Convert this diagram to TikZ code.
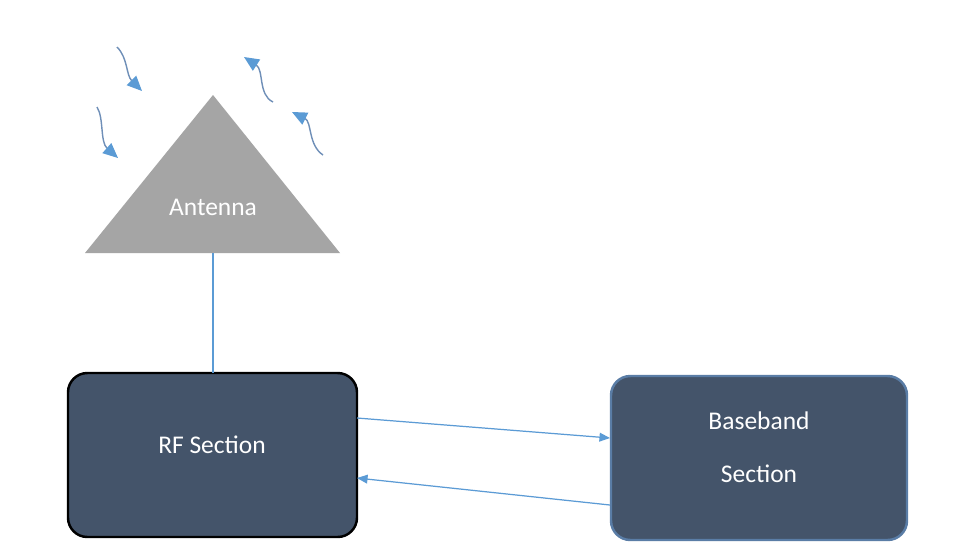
\documentclass[tikz,border=0pt]{standalone}
\usepackage{fontspec}
\setmainfont{Carlito}
\usetikzlibrary{arrows.meta}
\definecolor{boxfill}{HTML}{44546A}
\definecolor{linkblue}{HTML}{5B9BD5}
\definecolor{wavegray}{HTML}{6F8FB8}
\definecolor{antgray}{HTML}{A5A5A5}
\definecolor{bbedge}{HTML}{5A7DA6}
\tikzset{
  block/.style={rounded corners=11pt, fill=boxfill, text=white, font=\fontsize{14.5}{18}\selectfont},
  link/.style={draw=linkblue, line width=0.7pt, -{Triangle[length=6pt,width=5pt]}},
  wave/.style={draw=wavegray, line width=0.8pt, -{Triangle[length=8.5pt,width=7.5pt,color=linkblue,fill=linkblue]}},
  label/.style={text=white, font=\fontsize{14.5}{18}\selectfont}
}
\begin{document}
\begin{tikzpicture}[x=0.02cm, y=-0.02cm]
\useasboundingbox (0,0) rectangle (959,549);
\fill[white] (0,0) rectangle (959,549);
% antenna
\fill[antgray] (213,95) -- (340,253) -- (85,253) -- cycle;
\node[label] (ant) at (213,207) {Antenna};
\coordinate (antbase) at (213,253);
% blocks
\draw[block, draw=black, line width=1.4pt] (68,373) rectangle (357,537);
\node[label] (rf) at (212,445) {RF Section};
\draw[block, draw=bbedge, line width=1.4pt] (611,376) rectangle (907,540);
\node[label, align=center] (bb) at (759,447) {Baseband\\[12pt]Section};
\coordinate (rftop) at (213,373);
\coordinate (rfout) at (357,418);
\coordinate (bbin) at (610,438);
\coordinate (bbout) at (610,505);
\coordinate (rfin) at (357,478);
% connectors
\draw[draw=linkblue, line width=0.7pt] (antbase) -- (rftop);
\draw[link] (rfout) -- (bbin);
\draw[link] (bbout) -- (rfin);
% radio waves
\coordinate (w1a) at (117,47);
\coordinate (w1b) at (142,91);
\coordinate (w2a) at (97,107);
\coordinate (w2b) at (118,158);
\coordinate (w3a) at (273,102);
\coordinate (w3b) at (244,57);
\coordinate (w4a) at (323,155);
\coordinate (w4b) at (292,112);
\draw[wave] (w1a) .. controls (128,58) and (126,75) .. (w1b);
\draw[wave] (w2a) .. controls (104,118) and (100,142) .. (w2b);
\draw[wave] (w3a) .. controls (258,95) and (264,70) .. (w3b);
\draw[wave] (w4a) .. controls (308,145) and (312,122) .. (w4b);
\end{tikzpicture}
\end{document}
